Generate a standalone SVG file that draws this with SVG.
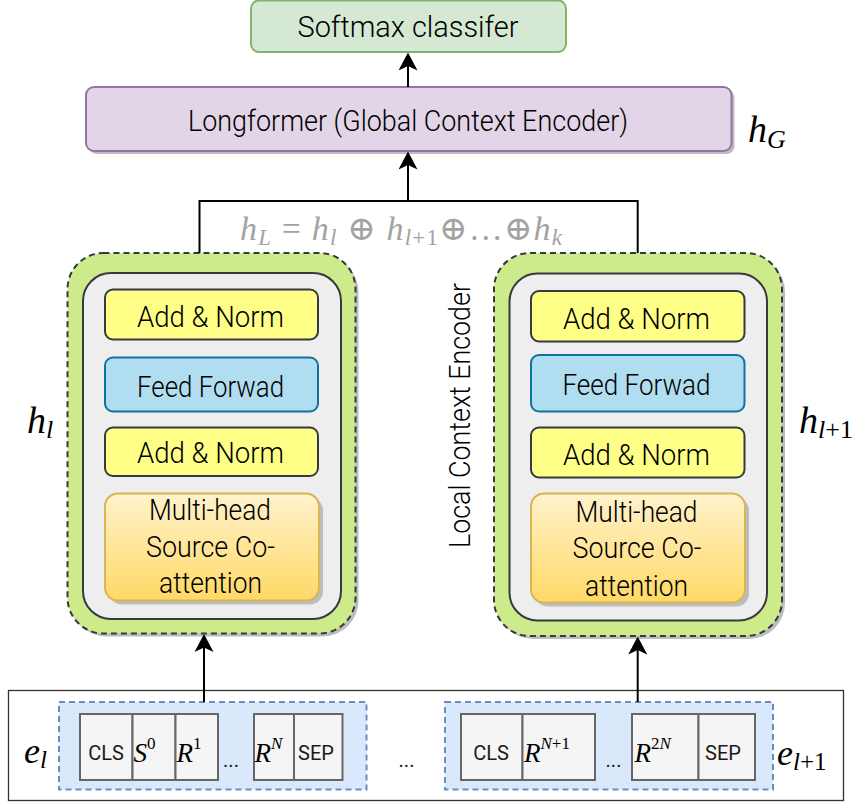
<svg xmlns="http://www.w3.org/2000/svg" width="860" height="803" viewBox="0 0 860 803">
  <defs>
    <style>
      .lbl { font-family: Roboto, "Liberation Sans", "DejaVu Sans", sans-serif; font-weight: 300; font-size: 30px; fill: #000; text-anchor: middle; }
      .cell { font-family: Roboto, "Liberation Sans", "DejaVu Sans", sans-serif; font-size: 20px; fill: #1a1a1a; text-anchor: middle; }
      .math { font-family: "Liberation Serif", "DejaVu Serif", serif; font-style: italic; fill: #000; }
      .up { font-style: normal; }
      .grey { fill: #a3a3a3; }
      .shadow { fill: #bdbdbd; }
      .outer { fill: #cdeb8b; stroke: #36393d; stroke-width: 2; stroke-dasharray: 6 4; }
      .inner { fill: #eeeeee; stroke: #36393d; stroke-width: 2; }
      .norm { fill: #ffff88; stroke: #36393d; stroke-width: 2; }
      .ff { fill: #b1ddf0; stroke: #10739e; stroke-width: 2; }
      .att { fill: url(#attGrad); stroke: #d6b656; stroke-width: 2; }
      .tok { fill: #f5f5f5; stroke: #666666; stroke-width: 2; }
      .seq { fill: #dae8fc; stroke: #6c8ebf; stroke-width: 2; stroke-dasharray: 6 4; }
      .wire { fill: none; stroke: #000; stroke-width: 2; }
    </style>
    <linearGradient id="attGrad" x1="0" y1="0" x2="0" y2="1">
      <stop offset="0" stop-color="#fff2cc"/>
      <stop offset="1" stop-color="#ffd966"/>
    </linearGradient>
    <marker id="ah" viewBox="0 0 18 19" refX="15" refY="9.5" markerWidth="18" markerHeight="19" markerUnits="userSpaceOnUse" orient="auto">
      <path d="M0,0 L18,9.5 L0,19 L4.5,9.5 Z" fill="#000"/>
    </marker>
  </defs>

  <!-- input sequence frame -->
  <g id="input-frame">
    <rect x="8.5" y="690.5" width="835" height="110" fill="#fff" stroke="#333" stroke-width="1.3"/>
  </g>

  <!-- classifier -->
  <g id="softmax">
    <rect x="251" y="0.5" width="315" height="51.5" rx="8" fill="#d5e8d4" stroke="#82b366" stroke-width="2"/>
    <text class="lbl" x="408" y="36.5" textLength="221" lengthAdjust="spacingAndGlyphs">Softmax classifer</text>
  </g>

  <!-- global encoder -->
  <g id="longformer">
    <rect class="shadow" x="89" y="90" width="645.5" height="64" rx="8"/>
    <rect x="86" y="87" width="645.5" height="64" rx="8" fill="#e1d5e7" stroke="#9673a6" stroke-width="2"/>
    <text class="lbl" x="408" y="131" textLength="440" lengthAdjust="spacingAndGlyphs">Longformer (Global Context Encoder)</text>
  </g>
  <g id="label-hG">
    <text class="math" x="748" y="142" font-size="38">h<tspan font-size="26" dy="6">G</tspan></text>
  </g>

  <!-- concatenation formula -->
  <g id="label-hL">
    <text class="math grey" x="240" y="240" font-size="34" textLength="322" lengthAdjust="spacing">h<tspan font-size="23" dy="5">L</tspan><tspan class="up" dy="-5"> = </tspan>h<tspan font-size="23" dy="5">l</tspan><tspan class="up" dy="-5"> ⊕ </tspan>h<tspan font-size="23" dy="5">l</tspan><tspan class="up" font-size="23">+1</tspan><tspan class="up" dy="-5">⊕…⊕</tspan>h<tspan font-size="23" dy="5">k</tspan></text>
  </g>

  <!-- left local encoder -->
  <g id="local-encoder-left">
    <rect class="shadow" x="70.5" y="256" width="288" height="380.5" rx="36"/>
    <rect class="outer" x="67.5" y="253" width="288" height="380.5" rx="36"/>
    <rect class="inner" x="83" y="273" width="258" height="346" rx="28"/>
    <g id="left-norm-top">
      <rect class="norm" x="105" y="289.5" width="213" height="50" rx="8"/>
      <text class="lbl" x="210.5" y="327.3" textLength="147" lengthAdjust="spacingAndGlyphs">Add &amp; Norm</text>
    </g>
    <g id="left-ff">
      <rect class="ff" x="105" y="357.5" width="213" height="54" rx="8"/>
      <text class="lbl" x="210.5" y="396.7" textLength="147" lengthAdjust="spacingAndGlyphs">Feed Forwad</text>
    </g>
    <g id="left-norm-bottom">
      <rect class="norm" x="105" y="427.5" width="213" height="48.5" rx="8"/>
      <text class="lbl" x="210.5" y="462.7" textLength="147" lengthAdjust="spacingAndGlyphs">Add &amp; Norm</text>
    </g>
    <g id="left-attention">
      <rect class="shadow" x="109" y="497.5" width="214" height="107" rx="13"/>
      <rect class="att" x="105" y="493.5" width="214" height="107" rx="13"/>
      <text class="lbl" x="210" y="520" textLength="122" lengthAdjust="spacingAndGlyphs">Multi-head</text>
      <text class="lbl" x="210.5" y="556.5" textLength="129" lengthAdjust="spacingAndGlyphs">Source Co-</text>
      <text class="lbl" x="210.5" y="593" textLength="103" lengthAdjust="spacingAndGlyphs">attention</text>
    </g>
  </g>
  <g id="label-hl">
    <text class="math" x="27" y="433" font-size="38">h<tspan font-size="26" dy="5">l</tspan></text>
  </g>

  <!-- right local encoder -->
  <g id="local-encoder-right">
    <rect class="shadow" x="497" y="256" width="288" height="383" rx="36"/>
    <rect class="outer" x="494" y="253" width="288" height="383" rx="36"/>
    <rect class="inner" x="509.5" y="273.5" width="257.5" height="347" rx="28"/>
    <g id="right-norm-top">
      <rect class="norm" x="531" y="291" width="213.5" height="50.5" rx="8"/>
      <text class="lbl" x="636.5" y="329.3" textLength="147" lengthAdjust="spacingAndGlyphs">Add &amp; Norm</text>
    </g>
    <g id="right-ff">
      <rect class="ff" x="531" y="355" width="213.5" height="56.5" rx="8"/>
      <text class="lbl" x="636.5" y="395" textLength="148" lengthAdjust="spacingAndGlyphs">Feed Forwad</text>
    </g>
    <g id="right-norm-bottom">
      <rect class="norm" x="531" y="427.5" width="213.5" height="50" rx="8"/>
      <text class="lbl" x="636.5" y="465" textLength="147" lengthAdjust="spacingAndGlyphs">Add &amp; Norm</text>
    </g>
    <g id="right-attention">
      <rect class="shadow" x="535" y="497.5" width="214" height="109" rx="13"/>
      <rect class="att" x="531" y="493.5" width="214" height="109" rx="13"/>
      <text class="lbl" x="636.5" y="521.7" textLength="122" lengthAdjust="spacingAndGlyphs">Multi-head</text>
      <text class="lbl" x="637" y="558.3" textLength="129" lengthAdjust="spacingAndGlyphs">Source Co-</text>
      <text class="lbl" x="636.5" y="595.5" textLength="103" lengthAdjust="spacingAndGlyphs">attention</text>
    </g>
  </g>
  <g id="label-local">
    <text class="lbl" transform="translate(469.5 415.5) rotate(-90)" x="0" y="0" textLength="265" lengthAdjust="spacingAndGlyphs">Local Context Encoder</text>
  </g>
  <g id="label-hl1">
    <text class="math" x="799" y="433" font-size="38">h<tspan font-size="26" dy="5">l</tspan><tspan class="up" font-size="26">+1</tspan></text>
  </g>

  <!-- token sequence l -->
  <g id="seq-left">
    <rect class="seq" x="59" y="702" width="307.5" height="87.5"/>
    <rect class="tok" x="80" y="714" width="52.5" height="66"/>
    <rect class="tok" x="132.5" y="714" width="43" height="66"/>
    <rect class="tok" x="175.5" y="714" width="42.5" height="66"/>
    <rect class="tok" x="254" y="714" width="40" height="66"/>
    <rect class="tok" x="294" y="714" width="48.5" height="66"/>
    <text class="cell" x="106" y="760">CLS</text>
    <text class="math" x="133.5" y="762" font-size="27">S<tspan class="up" font-size="17" dy="-13">0</tspan></text>
    <text class="math" x="176.5" y="762" font-size="27">R<tspan class="up" font-size="17" dy="-13">1</tspan></text>
    <text class="cell" x="231" y="767">...</text>
    <text class="math" x="254.5" y="762" font-size="27">R<tspan font-size="17" dy="-13">N</tspan></text>
    <text class="cell" x="316" y="760">SEP</text>
  </g>
  <g id="label-el">
    <text class="math" x="24" y="763" font-size="36">e<tspan font-size="25" dy="5">l</tspan></text>
  </g>
  <g id="gap-dots">
    <text class="cell" x="406.5" y="767">...</text>
  </g>

  <!-- token sequence l+1 -->
  <g id="seq-right">
    <rect class="seq" x="445" y="702" width="328" height="87.5"/>
    <rect class="tok" x="461" y="714" width="61.5" height="66"/>
    <rect class="tok" x="522.5" y="714" width="72.5" height="66"/>
    <rect class="tok" x="632" y="714" width="66.5" height="66"/>
    <rect class="tok" x="698.5" y="714" width="56.5" height="66"/>
    <text class="cell" x="491" y="760">CLS</text>
    <text class="math" x="524" y="762" font-size="27">R<tspan font-size="17" dy="-13">N</tspan><tspan class="up" font-size="17">+1</tspan></text>
    <text class="cell" x="613.5" y="767">...</text>
    <text class="math" x="634.5" y="762" font-size="27">R<tspan class="up" font-size="17" dy="-13">2</tspan><tspan font-size="17">N</tspan></text>
    <text class="cell" x="723" y="760">SEP</text>
  </g>
  <g id="label-el1">
    <text class="math" x="777" y="765" font-size="36">e<tspan font-size="25" dy="5">l</tspan><tspan class="up" font-size="25">+1</tspan></text>
  </g>

  <!-- connectors -->
  <g id="connectors">
    <polyline class="wire" points="199.5,253 199.5,201 637.7,201 637.7,253"/>
    <line class="wire" x1="408" y1="201" x2="408" y2="154.5" marker-end="url(#ah)"/>
    <line class="wire" x1="408" y1="87" x2="408" y2="55.5" marker-end="url(#ah)"/>
    <line class="wire" x1="204" y1="702" x2="204" y2="637" marker-end="url(#ah)"/>
    <line class="wire" x1="637.7" y1="702" x2="637.7" y2="639.5" marker-end="url(#ah)"/>
  </g>
</svg>
